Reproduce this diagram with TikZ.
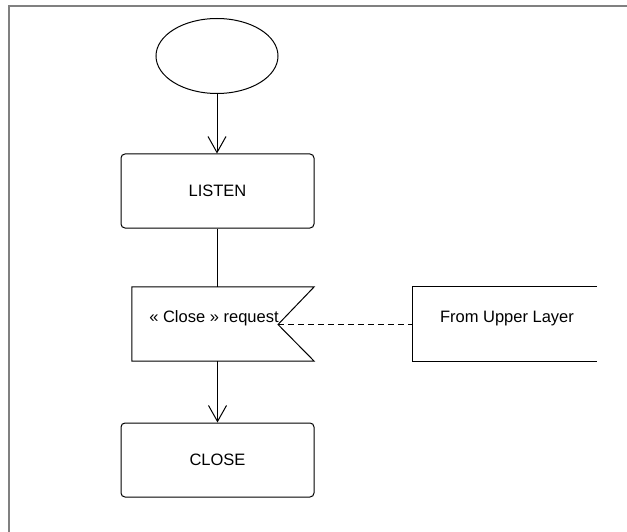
\documentclass[tikz,border=0pt]{standalone}
\usepackage{fontspec}
\setmainfont{Liberation Sans}
\usetikzlibrary{shapes.geometric,arrows.meta}
\begin{document}
\begin{tikzpicture}[x=1pt,y=-1pt,
  every node/.style={font=\fontsize{16.5}{19}\selectfont, inner sep=0pt},
  stateline/.style={draw=black, line width=1pt},
  startnode/.style={stateline, ellipse, minimum width=122pt, minimum height=75pt},
  statebox/.style={stateline, rectangle, rounded corners=4pt, minimum width=193pt, minimum height=74pt, text height=11.5pt, text depth=0pt},
  ghost/.style={rectangle, minimum width=#1, minimum height=74pt},
  lbl/.style={anchor=base},
  flow/.style={line width=1pt, -{Straight Barb[length=16pt,width=18pt,line width=1pt]}},
  link/.style={line width=1pt},
  dashlink/.style={line width=1pt, dash pattern=on 6pt off 4pt},
  frameline/.style={draw=black!50, line width=2pt}
]
\useasboundingbox (0,0) rectangle (627,532);
\draw[frameline] (9,532) -- (9,6) -- (627,6);

% start
\node[startnode] (start) at (217,56) {};
% LISTEN
\node[statebox] (listen) at (217.5,191) {LISTEN};
% signal body (outline drawn below)
\node[ghost=182pt] (sig) at (223,324) {};
\coordinate (notch) at (278,324.5);
\draw[stateline, line join=miter] (sig.north west) -- (sig.north east) -- (notch) -- (sig.south east) -- (sig.south west) -- cycle;
\node[lbl] (sigtext) at (214,322) {« Close » request};
% from upper layer (open on the right)
\node[ghost=184pt] (upper) at (505,324) {};
\draw[stateline] (upper.north east) -- (upper.north west) -- (upper.south west) -- (upper.south east);
\node[lbl] (uppertext) at (507,322) {From Upper Layer};
% CLOSE
\node[statebox] (close) at (217.5,460) {CLOSE};

% connectors
\draw[flow] (start.south) -- (start.south |- listen.north);
\draw[link] (listen.south) -- (listen.south |- sig.north);
\draw[flow] (sig.south -| listen.south) -- (close.north);
\draw[dashlink] (notch) -- (upper.west |- notch);
\end{tikzpicture}
\end{document}
